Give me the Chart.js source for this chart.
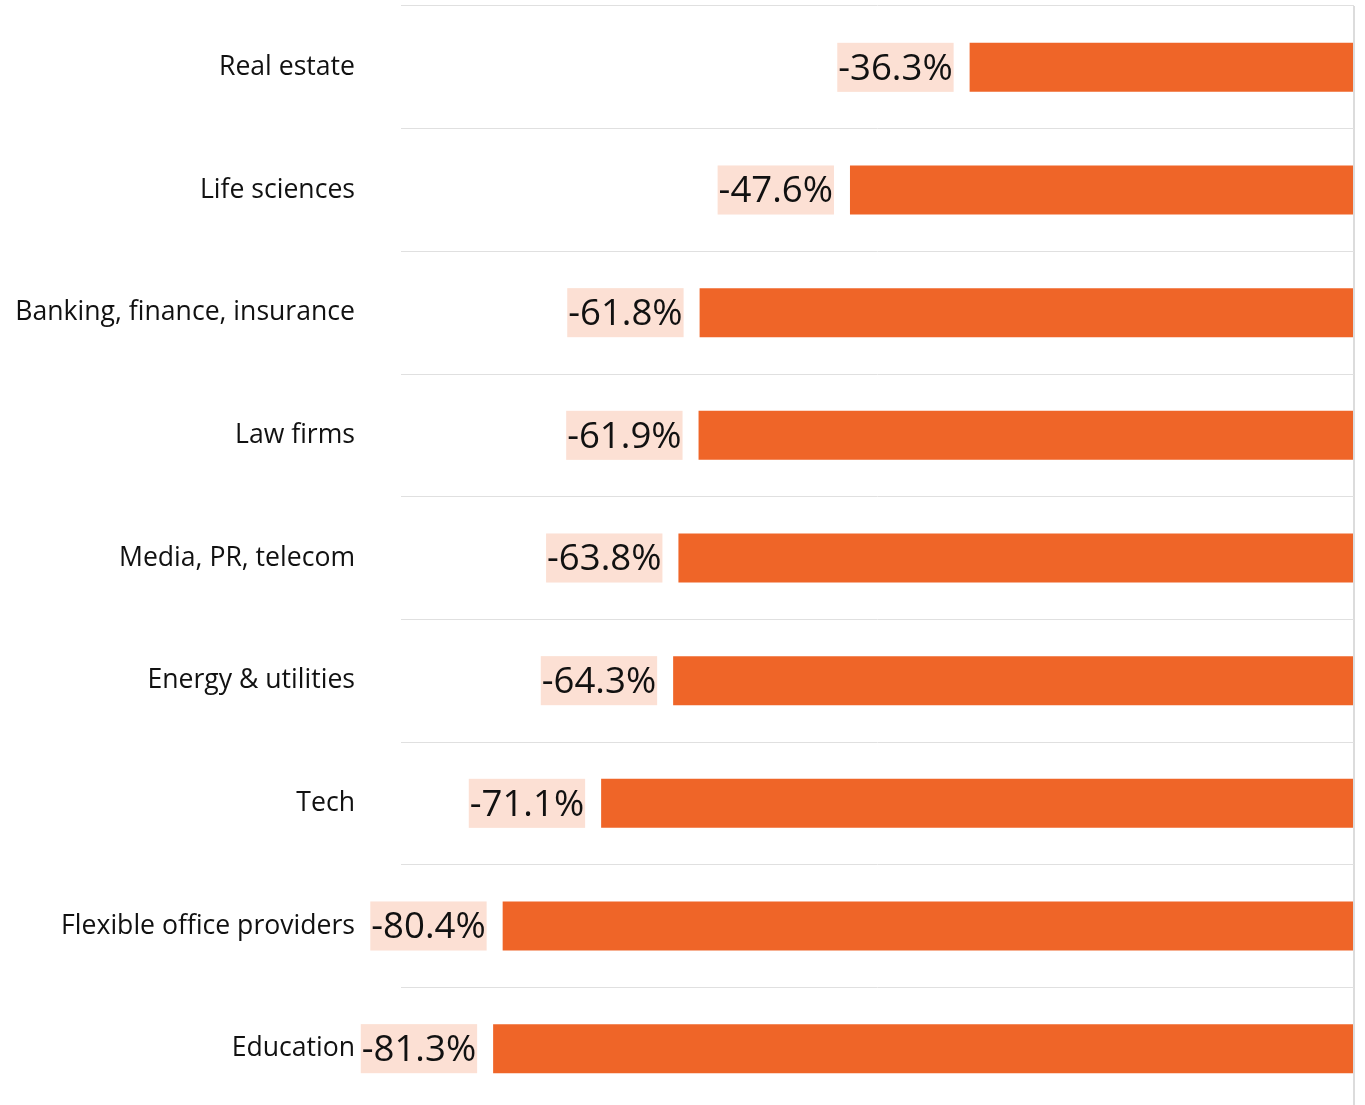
<!DOCTYPE html>
<html>
<head>
<meta charset="utf-8">
<script src="https://cdn.jsdelivr.net/npm/chart.js@4"></script>
<style>
  html, body { margin: 0; padding: 0; background: #fff; overflow: hidden; }
  #wrap { width: 1365px; height: 1112px; }
</style>
</head>
<body>
<div id="wrap"><canvas id="sectorChart"></canvas></div>
<script>
const sectors = [
    "Real estate",
    "Life sciences",
    "Banking, finance, insurance",
    "Law firms",
    "Media, PR, telecom",
    "Energy & utilities",
    "Tech",
    "Flexible office providers",
    "Education"
];
const changePct = [-36.3, -47.6, -61.8, -61.9, -63.8, -64.3, -71.1, -80.4, -81.3];

const BAR_COLOR = '#ef6528';
const LABEL_BG = '#fce0d4';

// value label sitting just left of each bar, with a light orange box behind it
const valueLabels = {
    id: 'valueLabels',
    afterDatasetsDraw(chart) {
        const ctx = chart.ctx;
        const meta = chart.getDatasetMeta(0);
        ctx.save();
        ctx.font = '36.6px "Open Sans"';
        ctx.textBaseline = 'middle';
        ctx.textAlign = 'right';
        meta.data.forEach((bar, i) => {
            const text = changePct[i].toFixed(1) + '%';
            const w = ctx.measureText(text).width;
            const right = bar.x - 16;
            const h = bar.height;
            ctx.fillStyle = LABEL_BG;
            ctx.fillRect(right - w - 2, bar.y - h / 2, w + 2, h);
            ctx.fillStyle = '#111';
            ctx.fillText(text, right - 1, bar.y + 2);
        });
        ctx.restore();
    }
};

new Chart(document.getElementById('sectorChart'), {
    type: 'bar',
    data: {
        labels: sectors,
        datasets: [{
            data: changePct,
            backgroundColor: BAR_COLOR,
            borderWidth: 0,
            barPercentage: 0.4,
            categoryPercentage: 1
        }]
    },
    options: {
        indexAxis: 'y',
        responsive: true,
        maintainAspectRatio: false,
        animation: false,
        layout: { padding: { top: 6, right: 11, bottom: 2, left: 0 } },
        scales: {
            x: {
                min: -90,
                max: 0,
                ticks: { display: false, stepSize: 90 },
                border: { display: false },
                grid: {
                    drawTicks: false,
                    color: (c) => (c.tick && c.tick.value === 0) ? '#dcdcdc' : 'rgba(0,0,0,0)',
                    lineWidth: 2
                }
            },
            y: {
                border: { display: false },
                grid: {
                    offset: true,
                    drawTicks: false,
                    color: '#e0e0e0',
                    lineWidth: 1
                },
                ticks: {
                    padding: 46,
                    color: '#111',
                    font: { family: '"Open Sans"', size: 26.6 }
                },
                afterFit(scale) {
                    scale.width = 401;
                    scale.paddingTop = 0;
                    scale.paddingBottom = 0;
                }
            }
        },
        plugins: {
            legend: { display: false },
            tooltip: { enabled: false }
        }
    },
    plugins: [valueLabels]
});
</script>
</body>
</html>
